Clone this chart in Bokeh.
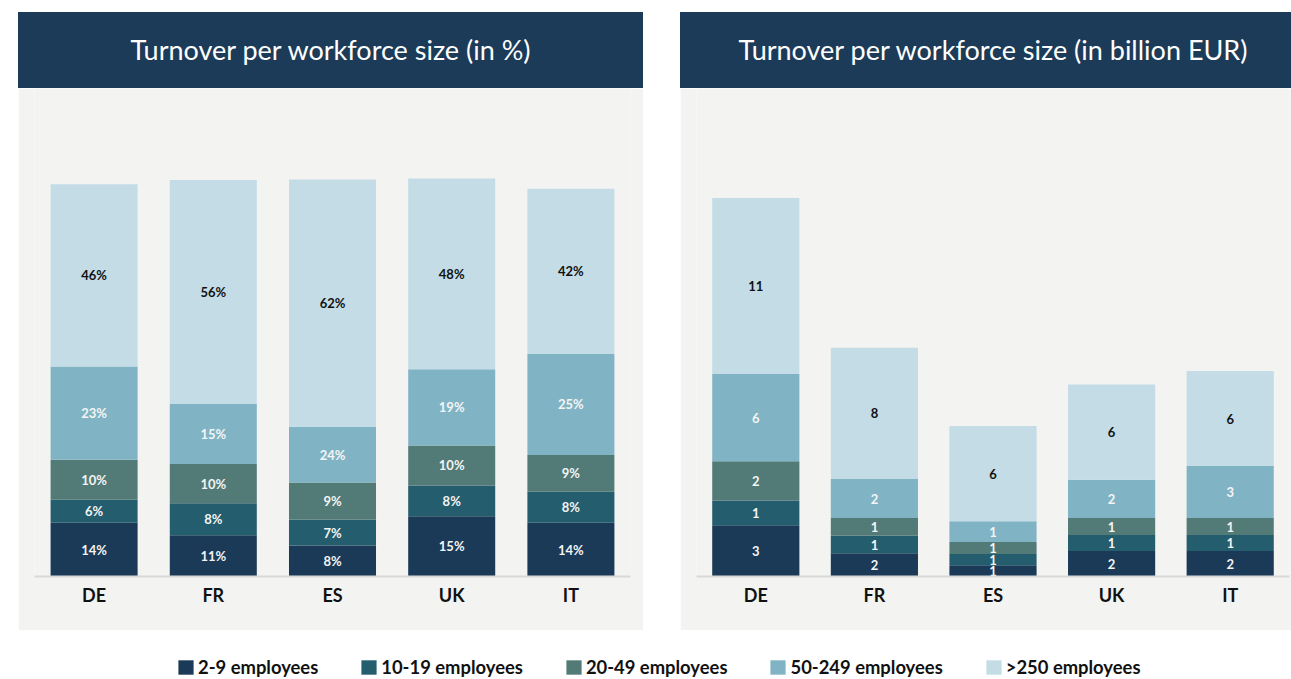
import numpy as np
from bokeh.plotting import figure
from bokeh.models import (ColumnDataSource, Div, Spacer, Legend, LegendItem,
                          FactorRange, Range1d)
from bokeh.layouts import row, column
from bokeh.core.properties import value
from bokeh.embed import file_html
from bokeh.resources import INLINE

# ---------------- data ----------------
countries = ["DE", "FR", "ES", "UK", "IT"]
groups = ["2-9 employees", "10-19 employees", "20-49 employees",
          "50-249 employees", ">250 employees"]

# share of turnover (in %), bar segment heights
pct_2_9 = [13.6, 10.4, 7.8, 15.2, 13.6]
pct_10_19 = [5.8, 8.1, 6.6, 7.8, 7.8]
pct_20_49 = [10.1, 9.9, 9.3, 10.1, 9.3]
pct_50_249 = [23.5, 15.2, 14.1, 19.2, 25.5]
pct_250 = [46.0, 56.5, 62.4, 48.2, 41.7]
# printed labels (in %)
pct_lbl_2_9 = [14, 11, 8, 15, 14]
pct_lbl_10_19 = [6, 8, 7, 8, 8]
pct_lbl_20_49 = [10, 10, 9, 10, 9]
pct_lbl_50_249 = [23, 15, 24, 19, 25]
pct_lbl_250 = [46, 56, 62, 48, 42]

# turnover (in billion EUR), bar segment heights
eur_2_9 = [3.2, 1.45, 0.7, 1.6, 1.6]
eur_10_19 = [1.55, 1.1, 0.7, 1.0, 1.0]
eur_20_49 = [2.45, 1.1, 0.75, 1.05, 1.05]
eur_50_249 = [5.45, 2.45, 1.3, 2.4, 3.25]
eur_250 = [11.0, 8.2, 5.95, 5.95, 5.95]
# printed labels (billion EUR)
eur_lbl_2_9 = [3, 2, 1, 2, 2]
eur_lbl_10_19 = [1, 1, 1, 1, 1]
eur_lbl_20_49 = [2, 1, 1, 1, 1]
eur_lbl_50_249 = [6, 2, 1, 2, 3]
eur_lbl_250 = [11, 8, 6, 6, 6]

colors = ["#1a3a57", "#245d6d", "#527b77", "#80b4c5", "#c3dce6"]
label_colors = ["#f4f4f4", "#f4f4f4", "#f4f4f4", "#f4f4f4", "#111111"]
BG = "#f3f3f1"
NAVY = "#1b3b58"
FONT = "Lato"


def make_panel(series, labels, suffix, width, left, right, ymax, bar_w):
    data = {"country": countries}
    for g, s in zip(groups, series):
        data[g] = s
    src = ColumnDataSource(data)

    p = figure(x_range=FactorRange(*countries), y_range=Range1d(0, ymax),
               width=width, height=542, output_backend="svg",
               toolbar_location=None, min_border_left=left,
               min_border_right=right, min_border_top=0, min_border_bottom=54)
    p.vbar_stack(groups, x="country", width=bar_w, source=src,
                 fill_color=colors, line_color=None)

    arr = np.array(series, dtype=float)
    bottoms = np.vstack([np.zeros(arr.shape[1]), np.cumsum(arr, axis=0)[:-1]])
    mids = bottoms + arr / 2
    lx, ly, lt, lc = [], [], [], []
    for i in range(len(groups)):
        for j, c in enumerate(countries):
            lx.append(c)
            ly.append(mids[i, j])
            lt.append(f"{labels[i][j]}{suffix}")
            lc.append(label_colors[i])
    lsrc = ColumnDataSource(dict(x=lx, y=ly, text=lt, color=lc))
    p.text(x="x", y="y", text="text", text_color="color", source=lsrc,
           text_align="center", text_baseline="middle",
           text_font=value(FONT), text_font_style="bold",
           text_font_size="13px")

    p.yaxis.visible = False
    p.xgrid.visible = False
    p.ygrid.visible = False
    p.outline_line_color = None
    p.background_fill_color = BG
    p.border_fill_color = BG
    ax = p.xaxis[0]
    ax.axis_line_color = "#d9d9d9"
    ax.axis_line_width = 2
    ax.major_tick_line_color = None
    ax.minor_tick_line_color = None
    ax.major_label_standoff = 1
    ax.major_label_text_font = FONT
    ax.major_label_text_font_style = "bold"
    ax.major_label_text_font_size = "18px"
    ax.major_label_text_color = "#111111"
    return p, src


def title_div(text, width, pad_left=0):
    html = (f'<div style="box-sizing:border-box;width:{width}px;height:76px;'
            f'padding-left:{pad_left}px;background:{NAVY};color:#ffffff;'
            f'font-family:{FONT};font-size:27px;line-height:76px;'
            f'text-align:center;white-space:nowrap;">{text}</div>')
    return Div(text=html, width=width, height=76, margin=0,
               styles={"background-color": NAVY})


pct_series = [pct_2_9, pct_10_19, pct_20_49, pct_50_249, pct_250]
pct_labels = [pct_lbl_2_9, pct_lbl_10_19, pct_lbl_20_49, pct_lbl_50_249, pct_lbl_250]
eur_series = [eur_2_9, eur_10_19, eur_20_49, eur_50_249, eur_250]
eur_labels = [eur_lbl_2_9, eur_lbl_10_19, eur_lbl_20_49, eur_lbl_50_249, eur_lbl_250]

p1, src1 = make_panel(pct_series, pct_labels, "%", 625, 16, 13, 123.2, 0.73)
p2, src2 = make_panel(eur_series, eur_labels, "", 611, 16, 2, 30.5, 0.735)

t1 = title_div("Turnover per workforce size (in %)", 625)
t2 = title_div("Turnover per workforce size (in billion EUR)", 611, 15)

# legend strip
pl = figure(width=1291, height=49, x_range=FactorRange(*countries),
            y_range=Range1d(1000, 1001), x_axis_type=None, y_axis_type=None,
            output_backend="svg", toolbar_location=None, min_border=0)
pl.xgrid.visible = False
pl.ygrid.visible = False
pl.outline_line_color = None
pl.background_fill_color = "white"
pl.border_fill_color = "white"
rends = pl.vbar_stack(groups, x="country", width=0.7, source=src1,
                      fill_color=colors, line_color=None)
legend = Legend(items=[LegendItem(label=g, renderers=[r]) for g, r in zip(groups, rends)],
                orientation="horizontal", location=(176, 1),
                glyph_width=19, glyph_height=18, label_standoff=3, spacing=41,
                padding=0, margin=0, border_line_color=None,
                background_fill_alpha=0, label_text_font=FONT,
                label_text_font_size="18.4px", label_text_font_style="bold",
                label_text_color="#111111")
pl.add_layout(legend)

layout = column(
    Spacer(width=1291, height=12),
    row(Spacer(width=18, height=618), column(t1, p1), Spacer(width=37, height=618),
        column(t2, p2)),
    pl,
)

open("out.html", "w").write(file_html(layout, INLINE))
